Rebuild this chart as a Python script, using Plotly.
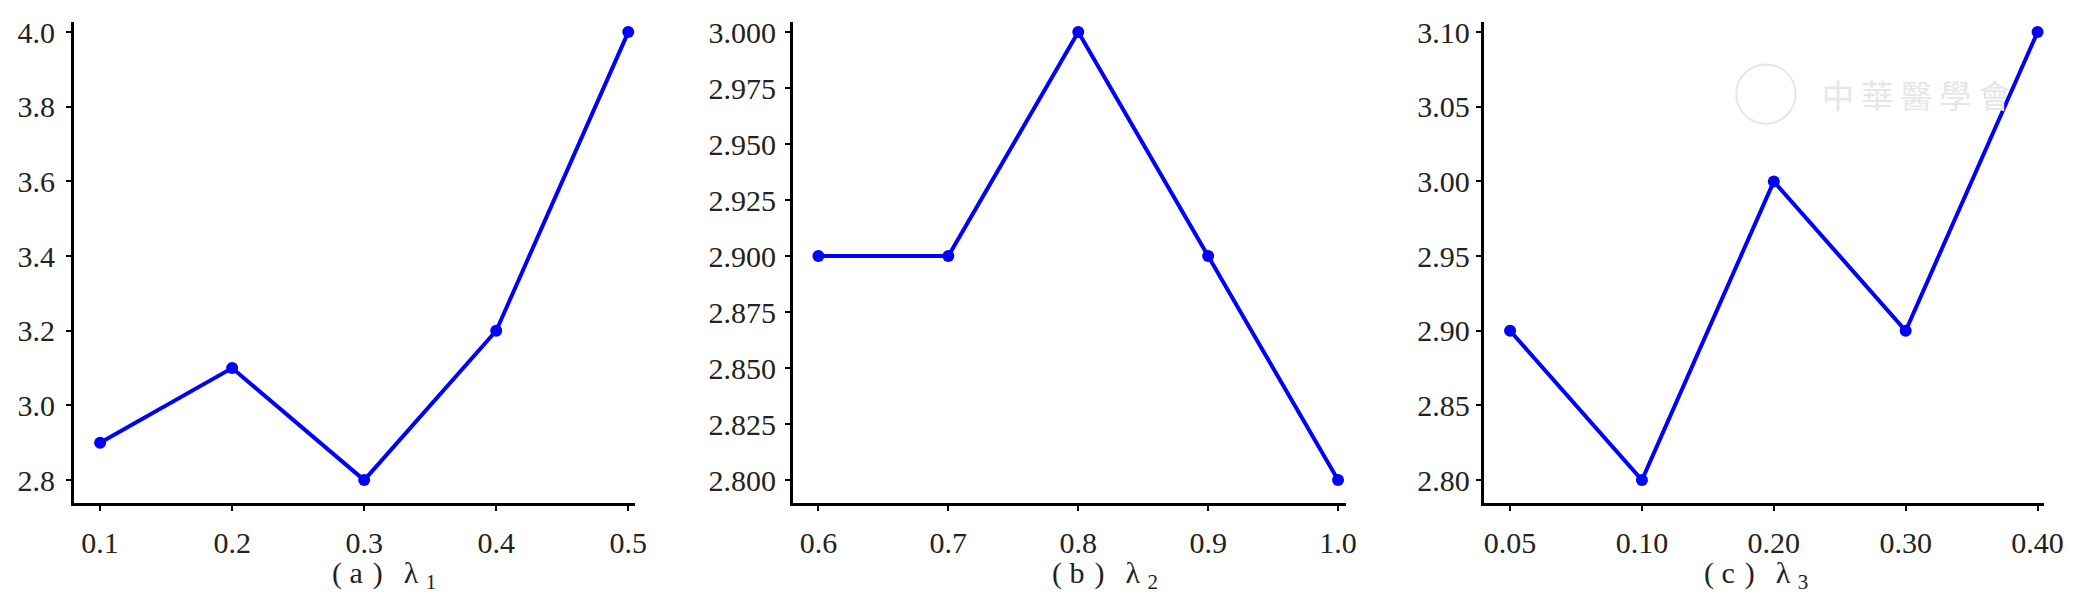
import plotly.graph_objects as go

# ---- data ----
lambda1_x = [0.1, 0.2, 0.3, 0.4, 0.5]
lambda1_y = [2.9, 3.1, 2.8, 3.2, 4.0]

lambda2_x = [0.6, 0.7, 0.8, 0.9, 1.0]
lambda2_y = [2.9, 2.9, 3.0, 2.9, 2.8]

lambda3_x = ["0.05", "0.10", "0.20", "0.30", "0.40"]
lambda3_y = [2.9, 2.8, 3.0, 2.9, 3.1]

panel_letters = ["a", "b", "c"]
panel_params = ["λ", "λ", "λ"]
panel_subs = ["1", "2", "3"]

# page has a small body margin; figure is sized to fit the 2091x602 window
OFFX, OFFY = 6, 12
W, H = 2091 - 16, 602 - 16
BLUE = "#0000ff"
TXT = "#222222"
FONT = "Liberation Serif, Times New Roman, serif"


def fx(px):
    return (px - OFFX) / W


def fy(py):
    return 1 - (py - OFFY) / H


fig = go.Figure()
series = [(lambda1_x, lambda1_y), (lambda2_x, lambda2_y), (lambda3_x, lambda3_y)]
for i, (xs, ys) in enumerate(series):
    sfx = "" if i == 0 else str(i + 1)
    fig.add_trace(go.Scatter(
        x=xs, y=ys, mode="lines+markers",
        line=dict(color=BLUE, width=4),
        marker=dict(color=BLUE, size=12),
        xaxis="x" + sfx, yaxis="y" + sfx, showlegend=False,
        hoverinfo="x+y",
    ))

ydom = [fy(505.7), fy(19.3)]

common_axis = dict(
    showline=True, linecolor="black", linewidth=3,
    ticks="outside", ticklen=5, tickwidth=2, tickcolor="black",
    showgrid=False, zeroline=False,
    tickfont=dict(family=FONT, size=30, color=TXT),
    mirror=False,
)

x_specs = [
    dict(domain=[fx(72.7), fx(639)], range=[0.08027, 0.50503], tickvals=lambda1_x, tickformat=".1f"),
    dict(domain=[fx(798.7), fx(1357.3)], range=[0.58048, 1.00633], tickvals=lambda2_x, tickformat=".1f"),
    dict(domain=[fx(1496), fx(2062)], range=[-0.2005, 4.0503], type="category"),
]
y_specs = [
    dict(range=[2.73913, 4.02647], tickvals=[2.8, 3.0, 3.2, 3.4, 3.6, 3.8, 4.0], tickformat=".1f", ticklabelstandoff=5),
    dict(range=[2.78985, 3.00441], tickvals=[2.8, 2.825, 2.85, 2.875, 2.9, 2.925, 2.95, 2.975, 3.0], tickformat=".3f", ticklabelstandoff=3),
    dict(range=[2.78478, 3.10662], tickvals=[2.8, 2.85, 2.9, 2.95, 3.0, 3.05, 3.1], tickformat=".2f", ticklabelstandoff=0),
]

layout = dict(
    width=W, height=H,
    margin=dict(l=0, r=0, t=0, b=0),
    paper_bgcolor="white", plot_bgcolor="white",
    font=dict(family=FONT, size=30, color=TXT),
)
for i in range(3):
    sfx = "" if i == 0 else str(i + 1)
    xa = dict(common_axis, anchor="y" + sfx, ticklabelstandoff=6, **x_specs[i])
    ya = dict(common_axis, anchor="x" + sfx, domain=ydom, **y_specs[i])
    layout["xaxis" + sfx] = xa
    layout["yaxis" + sfx] = ya
fig.update_layout(**layout)

# panel captions (x-axis titles)
nb, thin, hair = "\u00a0", "\u2009", "\u200a"
cap_x = [386, 1114, 1771]
for i in range(3):
    txt = ("(" + nb + panel_letters[i] + nb + hair + ")" + nb * 2 + thin
           + panel_params[i] + nb + "<sub>" + panel_subs[i] + "</sub>")
    fig.add_annotation(
        x=fx(cap_x[i]), y=fy(579), xref="paper", yref="paper",
        text=txt, showarrow=False, xanchor="center", yanchor="middle",
        font=dict(family=FONT, size=30, color=TXT),
    )

# faint watermark
fig.add_shape(type="circle", xref="paper", yref="paper",
              x0=fx(1751), x1=fx(1811), y0=fy(122), y1=fy(62),
              line=dict(color="#e6e6e6", width=2), layer="below")
fig.add_annotation(
    x=fx(1933), y=fy(92), xref="paper", yref="paper",
    text="中 華 醫 學 會", showarrow=False, xanchor="center", yanchor="middle",
    font=dict(family="Noto Sans CJK TC", size=32, color="#e6e6e6"),
)

fig.write_html("out.html")
